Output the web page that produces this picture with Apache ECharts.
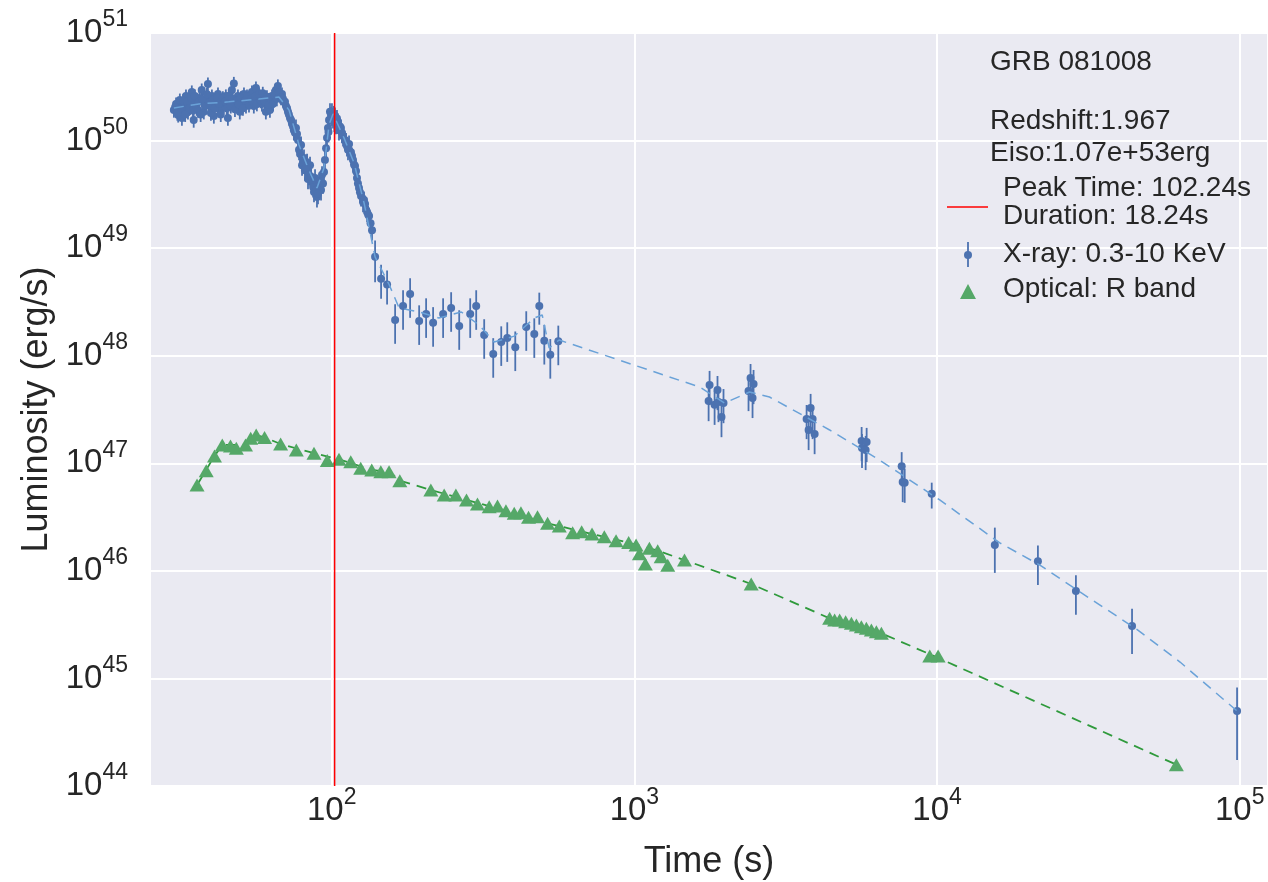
<!DOCTYPE html>
<html>
<head>
<meta charset="utf-8">
<script src="https://cdn.jsdelivr.net/npm/echarts@6/dist/echarts.min.js"></script>
<style>
html,body{margin:0;padding:0;background:#fff;}
#chart{width:1268px;height:882px;}
</style>
</head>
<body>
<div id="chart"></div>
<script>
// ---------------- data ----------------
const xrayTime = [30.1,30.6,31.1,31.5,32.0,32.5,33.0,33.5,34.0,34.5,35.0,35.5,36.1,36.6,37.2,37.8,38.4,39.0,39.6,40.2,40.8,41.4,42.1,42.7,43.4,44.0,44.7,45.4,46.1,46.8,47.5,48.2,49.0,49.7,50.5,51.3,52.1,52.9,53.7,54.5,55.3,56.2,57.1,57.9,58.8,59.7,60.6,61.6,62.5,63.5,64.4,65.4,66.4,67.5,68.5,69.5,70.6,71.7,72.8,73.9,75.0,76.2,77.4,78.0,79.2,79.8,81.0,81.6,82.9,84.1,84.8,86.1,87.4,88.1,89.4,90.8,92.2,92.9,94.3,95.0,95.8,96.5,97.2,98.0,98.7,100.2,101.0,102.5,103.3,104.9,105.7,107.3,109.0,110.6,112.3,114.1,115.8,117.6,119.4,121.2,123.1,125.0,126.9,128.9,130.9,132.9,135.9,
  30.4,30.9,31.8,32.3,32.8,33.3,33.8,34.3,34.8,35.3,35.8,36.4,36.9,37.5,38.1,38.7,39.3,39.9,40.5,41.1,41.8,42.4,43.0,43.7,44.4,45.0,45.7,46.4,47.1,47.9,48.6,49.3,50.1,50.9,51.7,52.5,53.3,54.1,54.9,55.8,56.6,57.5,58.3,59.2,60.1,61.1,62.0,63.0,64.0,64.9,65.9,67.0,68.0,69.0,70.1,71.2,72.2,73.4,74.5,75.6,76.8,
  78.6,80.4,82.3,83.5,85.5,86.8,89.0,90.1,91.5,93.6,97.6,99.5,101.6,102.0,104.1,106.5,108.1,111.5,113.2,116.7,118.5,120.3,122.1,124.0,127.9,131.9,134.4,
  139.1,145.6,152.4,162.0,172.1,181.6,194.5,205.1,216.3,233.4,248.1,263.8,286.8,300.2,319.0,341.7,363.2,380.2,404.1,439.3,467.0,485.1,504,527.5,560.6,
  1759,1772,1841,1882,1896,1940,1970,2383,2420,2457,2476,3707,3764,3822,3880,3940,5634,5650,5809,5853,7641,7700,7818,9603,15520,21540,28760,44080,98000];
const xrayLum = [1.92e50,2.19e50,1.73e50,2.38e50,1.62e50,2.10e50,2.60e50,1.85e50,2.19e50,2.83e50,1.55e50,2.29e50,1.92e50,2.49e50,2.95e50,1.85e50,2.38e50,3.36e50,2.10e50,2.60e50,1.69e50,2.29e50,2.71e50,1.92e50,2.38e50,2.10e50,2.60e50,1.62e50,2.38e50,2.95e50,3.4e50,2.19e50,2.60e50,1.85e50,2.38e50,2.71e50,2.10e50,2.49e50,2.29e50,2.83e50,2.10e50,3.08e50,2.38e50,2.60e50,2.19e50,2.49e50,1.85e50,2.29e50,1.92e50,2.60e50,2.38e50,2.95e50,3.22e50,2.60e50,2.71e50,2.29e50,2.10e50,1.85e50,1.62e50,1.43e50,1.25e50,1.31e50,1.01e50,8.2e49,9.1e49,5.9e49,6.9e49,5.3e49,6.3e49,4.8e49,5.9e49,4.1e49,3.33e49,4.5e49,2.99e49,3.86e49,3.47e49,4.8e49,5.1e49,6.6e49,8.5e49,1.06e50,1.31e50,1.55e50,1.85e50,1.85e50,1.62e50,1.69e50,1.43e50,1.49e50,1.25e50,1.31e50,1.10e50,1.01e50,8.9e49,9.3e49,7.8e49,6.6e49,5.8e49,4.5e49,3.62e49,3.05e49,2.69e49,2.57e49,2.17e49,1.99e49,1.47e49,
  2.05e50,1.8e50,2.0e50,2.35e50,1.75e50,2.3e50,2.0e50,2.5e50,1.9e50,2.6e50,2.0e50,2.3e50,1.75e50,2.4e50,2.1e50,2.7e50,2.25e50,1.8e50,2.4e50,2.0e50,2.5e50,2.2e50,1.75e50,2.5e50,2.3e50,2.0e50,2.6e50,2.1e50,2.45e50,1.95e50,2.35e50,2.15e50,2.5e50,2.0e50,2.35e50,2.6e50,2.15e50,2.45e50,2.3e50,2.55e50,2.2e50,2.7e50,2.35e50,2.75e50,2.3e50,2.55e50,2.15e50,2.4e50,2.2e50,2.65e50,2.45e50,2.8e50,2.5e50,2.45e50,2.3e50,2.0e50,1.75e50,1.55e50,1.35e50,1.18e50,1.15e50,
  7.5e49,6.2e49,5.6e49,4.4e49,4.6e49,3.7e49,3.5e49,3.2e49,4.2e49,4.0e49,1.2e50,1.7e50,1.75e50,1.5e50,1.6e50,1.35e50,1.18e50,9.8e49,8.2e49,7.2e49,6.0e49,5.2e49,4.0e49,3.3e49,2.8e49,2.05e49,1.7e49,
  8.3e48,5.2e48,4.6e48,2.15e48,2.9e48,3.75e48,2.10e48,2.44e48,2.02e48,2.44e48,2.78e48,1.89e48,2.44e48,2.9e48,1.56e48,1.04e48,1.34e48,1.46e48,1.20e48,1.85e48,1.59e48,2.9e48,1.38e48,1.02e48,1.36e48,
  3.79e47,5.35e47,3.5e47,4.8e47,3.71e47,2.69e47,3.63e47,4.7e47,6.2e47,4.05e47,5.46e47,2.58e47,2.04e47,3.27e47,2.58e47,1.87e47,1.61e47,1.39e47,1.33e47,1.58e47,9.4e46,6.7e46,6.6e46,5.2e46,1.74e46,1.23e46,6.5e45,3.07e45,4.98e44];
// relative 1-sigma error of each X-ray point
const xrayErr = [0.15,0.15,0.15,0.15,0.15,0.15,0.15,0.15,0.15,0.15,0.15,0.15,0.15,0.15,0.15,0.15,0.15,0.15,0.15,0.15,0.15,0.15,0.15,0.15,0.15,0.15,0.15,0.15,0.15,0.15,0.15,0.15,0.15,0.15,0.15,0.15,0.15,0.15,0.15,0.15,0.15,0.15,0.15,0.15,0.15,0.15,0.15,0.15,0.15,0.15,0.15,0.15,0.15,0.15,0.15,0.15,0.15,0.15,0.15,0.15,
  0.2,0.2,0.2,0.2,0.2,0.2,0.2,0.2,0.2,0.2,0.2,0.2,0.2,0.2,0.2,0.2,0.2,0.2,0.2,0.2,0.2,0.2,0.2,0.2,0.2,0.2,0.2,0.2,0.2,0.2,0.2,0.2,0.2,0.2,0.2,0.2,0.2,0.2,0.2,0.2,0.2,0.2,0.2,0.2,0.2,0.2,0.2,
  0.15,0.15,0.15,0.15,0.15,0.15,0.15,0.15,0.15,0.15,0.15,0.15,0.15,0.15,0.15,0.15,0.15,0.15,0.15,0.15,0.15,0.15,0.15,0.15,0.15,0.15,0.15,0.15,0.15,0.15,0.15,0.15,0.15,0.15,0.15,0.15,0.15,0.15,0.15,0.15,0.15,0.15,0.15,0.15,0.15,0.15,0.15,0.15,0.15,0.15,0.15,0.15,0.15,0.15,0.15,0.15,0.15,0.15,0.15,0.15,0.15,
  0.2,0.2,0.2,0.2,0.2,0.2,0.2,0.2,0.2,0.2,0.2,0.2,0.2,0.2,0.2,0.2,0.2,0.2,0.2,0.2,0.2,0.2,0.2,0.2,0.2,0.2,0.2,
  0.42,0.35,0.35,0.4,0.4,0.4,0.4,0.4,0.4,0.4,0.4,0.4,0.4,0.4,0.4,0.4,0.4,0.4,0.4,0.4,0.4,0.33,0.4,0.4,0.4,
  0.35,0.35,0.35,0.35,0.35,0.35,0.35,0.35,0.35,0.35,0.35,0.35,0.35,0.35,0.35,0.35,0.35,0.35,0.35,0.35,0.35,0.35,0.35,0.27,0.45,0.4,0.4,0.45,0.65];

const xrayFitTime = [30.1,36.4,45.7,57.5,66.9,72.3,78.0,84.1,89.4,94.3,98.0,101.0,109.8,118.5,127.9,139.1,155,167,194.5,226,268,307,344,401,467,496,523,564,1642,1985,2401,2796,4417,6464,10206,16120,21870,29650,45080,63500,98000];
const xrayFitLum = [2.01e50,2.19e50,2.29e50,2.43e50,2.54e50,1.92e50,9.1e49,5.3e49,3.62e49,5.56e49,1.40e50,1.77e50,1.06e50,6.2e49,2.63e49,8.3e48,4.54e48,2.78e48,2.55e48,2.24e48,2.55e48,1.93e48,1.34e48,1.52e48,2.24e48,2.39e48,1.18e48,1.40e48,5.12e47,3.63e47,4.60e47,4.13e47,2.04e47,1.07e47,4.56e46,1.82e46,1.13e46,6.37e45,2.94e45,1.42e45,4.98e44];

const optTime = [35.9,38.5,41.0,43.5,46.3,48.4,51.9,54.0,56.3,60.0,67.8,76.4,87.4,96.7,105.7,115.6,124.7,135.6,145.3,154.7,167.9,212.6,235.3,257.2,278.8,303.1,331.4,353.0,376.4,400.9,421.9,447.0,478.6,516.7,564.9,625.2,669.6,724.6,795.6,869.9,957.5,1013,1039,1087,1121,1194,1226,1289,1464,2432,4417,4588,4767,4989,5212,5413,5622,5840,6067,6302,6548,9461,10080,61750];
const optLum = [6.28e46,8.53e46,1.17e47,1.48e47,1.45e47,1.38e47,1.48e47,1.71e47,1.83e47,1.74e47,1.51e47,1.33e47,1.24e47,1.06e47,1.09e47,1.035e47,8.98e46,8.66e46,8.35e46,8.35e46,6.89e46,5.65e46,5.07e46,5.07e46,4.56e46,4.19e46,3.95e46,4.01e46,3.63e46,3.43e46,3.47e46,3.15e46,3.19e46,2.77e46,2.61e46,2.26e46,2.31e46,2.20e46,2.08e46,1.91e46,1.83e46,1.74e46,1.44e46,1.16e46,1.62e46,1.54e46,1.35e46,1.13e46,1.26e46,7.55e45,3.62e45,3.49e45,3.49e45,3.37e45,3.26e45,3.14e45,3.03e45,2.92e45,2.82e45,2.72e45,2.63e45,1.62e45,1.62e45,1.58e44];

const optFitTime = [35.9,41.0,43.5,51.9,56.3,60.0,67.8,87.4,105.7,135.6,154.7,167.9,212.6,278.8,376.4,516.7,724.6,957.5,1194,1464,2432,4417,6548,9745,61750];
const optFitLum = [6.28e46,1.17e47,1.48e47,1.48e47,1.83e47,1.74e47,1.51e47,1.24e47,1.09e47,8.66e46,8.35e46,6.89e46,5.65e46,4.56e46,3.63e46,2.77e46,2.20e46,1.83e46,1.54e46,1.26e46,7.55e45,3.62e45,2.63e45,1.62e45,1.58e44];

const peakTime = 102.24;
const duration = 18.24;
const timeRange = [25.1, 124000];
const lumRange = [1e44, 1e51];
const infoLines = ['GRB 081008', 'Redshift:1.967', 'Eiso:1.07e+53erg'];
const legendNames = ['Peak Time: ' + peakTime + 's', 'Duration: ' + duration + 's', 'X-ray: 0.3-10 KeV', 'Optical: R band'];

// ---------------- chart ----------------
const FONT = '"Liberation Sans", Arial, Helvetica, sans-serif';
const TXT = '#262626';
const BLUE = '#4c72b0';
const GREEN = '#55a868';

const zip = (a, b) => a.map((v, i) => [v, b[i]]);
const powLabel = v => '{b|10}{s|' + Math.round(Math.log10(v)) + '}';
const richLab = {
  b: {fontSize: 33, lineHeight: 33, padding: [8, 0, 8, 0], color: TXT, fontFamily: FONT},
  s: {fontSize: 23, lineHeight: 23, padding: [0, 0, 26, 0], color: TXT, fontFamily: FONT}
};

const chart = echarts.init(document.getElementById('chart'), null, {renderer: 'canvas'});

const errData = xrayTime.map((t, i) => [t, xrayLum[i] * (1 - xrayErr[i]), xrayLum[i] * (1 + xrayErr[i])]);

const legendX = 990, legendTextX = 1003;
const g = [
  {x: legendX, y: 62, text: infoLines[0]},
  {x: legendX, y: 121, text: infoLines[1]},
  {x: legendX, y: 153, text: infoLines[2]},
  {x: legendTextX, y: 188, text: legendNames[0]},
  {x: legendTextX, y: 216, text: legendNames[1]},
  {x: legendTextX, y: 254, text: legendNames[2]},
  {x: legendTextX, y: 289, text: legendNames[3]}
].map(o => ({type: 'text', x: o.x, y: o.y, z: 100,
  style: {text: o.text, font: '28px ' + FONT, fill: TXT, verticalAlign: 'middle', align: 'left'}}));
g.push(
  {type: 'line', z: 100, shape: {x1: 947, y1: 207, x2: 988, y2: 207}, style: {stroke: '#ff0000', lineWidth: 1.5}},
  {type: 'line', z: 100, shape: {x1: 968, y1: 242, x2: 968, y2: 267}, style: {stroke: BLUE, lineWidth: 1.8}},
  {type: 'circle', z: 101, shape: {cx: 968, cy: 255, r: 4}, style: {fill: BLUE}},
  {type: 'polygon', z: 100, shape: {points: [[960, 299], [976, 299], [968, 284]]}, style: {fill: GREEN}}
);

const option = {
  animation: false,
  backgroundColor: '#ffffff',
  textStyle: {fontFamily: FONT},
  grid: {left: 150, top: 33, width: 1118, height: 753, show: true, backgroundColor: '#eaeaf2', borderWidth: 0,
    containLabel: false, outerBoundsMode: 'none'},
  xAxis: {
    type: 'log', logBase: 10, min: timeRange[0], max: timeRange[1],
    name: 'Time (s)', nameLocation: 'middle', nameGap: 58,
    nameTextStyle: {fontSize: 36, color: TXT, fontFamily: FONT},
    axisLine: {show: false}, axisTick: {show: false}, minorTick: {show: false},
    splitLine: {show: true, lineStyle: {color: '#ffffff', width: 2}},
    axisLabel: {showMinLabel: false, showMaxLabel: false, margin: 8, formatter: powLabel, rich: richLab}
  },
  yAxis: {
    type: 'log', logBase: 10, min: lumRange[0], max: lumRange[1],
    name: 'Luminosity (erg/s)', nameLocation: 'middle', nameGap: 92,
    nameTextStyle: {fontSize: 36, color: TXT, fontFamily: FONT},
    axisLine: {show: false}, axisTick: {show: false},
    splitLine: {show: true, lineStyle: {color: '#ffffff', width: 2}},
    axisLabel: {margin: 22, formatter: powLabel, rich: richLab}
  },
  graphic: g,
  series: [
    {
      name: 'optical fit', type: 'line', data: zip(optFitTime, optFitLum), symbol: 'none', z: 2,
      lineStyle: {color: '#2f9a3c', width: 1.8, type: [10, 7]}, silent: true
    },
    {
      name: 'Optical: R band', type: 'scatter', data: zip(optTime, optLum), symbol: 'triangle', symbolSize: [15, 13], z: 3,
      itemStyle: {color: GREEN, opacity: 1}
    },
    {
      name: 'xerr', type: 'custom', data: errData, z: 4, encode: {x: 0, y: [1, 2]},
      renderItem: (params, api) => {
        const p1 = api.coord([api.value(0), api.value(1)]);
        const p2 = api.coord([api.value(0), api.value(2)]);
        return {type: 'line', shape: {x1: p1[0], y1: p1[1], x2: p2[0], y2: p2[1]}, style: {stroke: BLUE, lineWidth: 1.8}};
      }
    },
    {
      name: 'X-ray: 0.3-10 KeV', type: 'scatter', data: zip(xrayTime, xrayLum), symbol: 'circle', symbolSize: 8, z: 5,
      itemStyle: {color: BLUE, opacity: 1}
    },
    {
      name: 'xray fit', type: 'line', data: zip(xrayFitTime, xrayFitLum), symbol: 'none', z: 6,
      lineStyle: {color: '#6aa2d8', width: 1.5, type: [10, 7]}, silent: true
    },
    {
      name: 'peak', type: 'line', data: [[peakTime, lumRange[0]], [peakTime, lumRange[1]]], symbol: 'none', z: 7,
      lineStyle: {color: '#ff0000', width: 1.5}, silent: true
    }
  ]
};
chart.setOption(option);
</script>
</body>
</html>
